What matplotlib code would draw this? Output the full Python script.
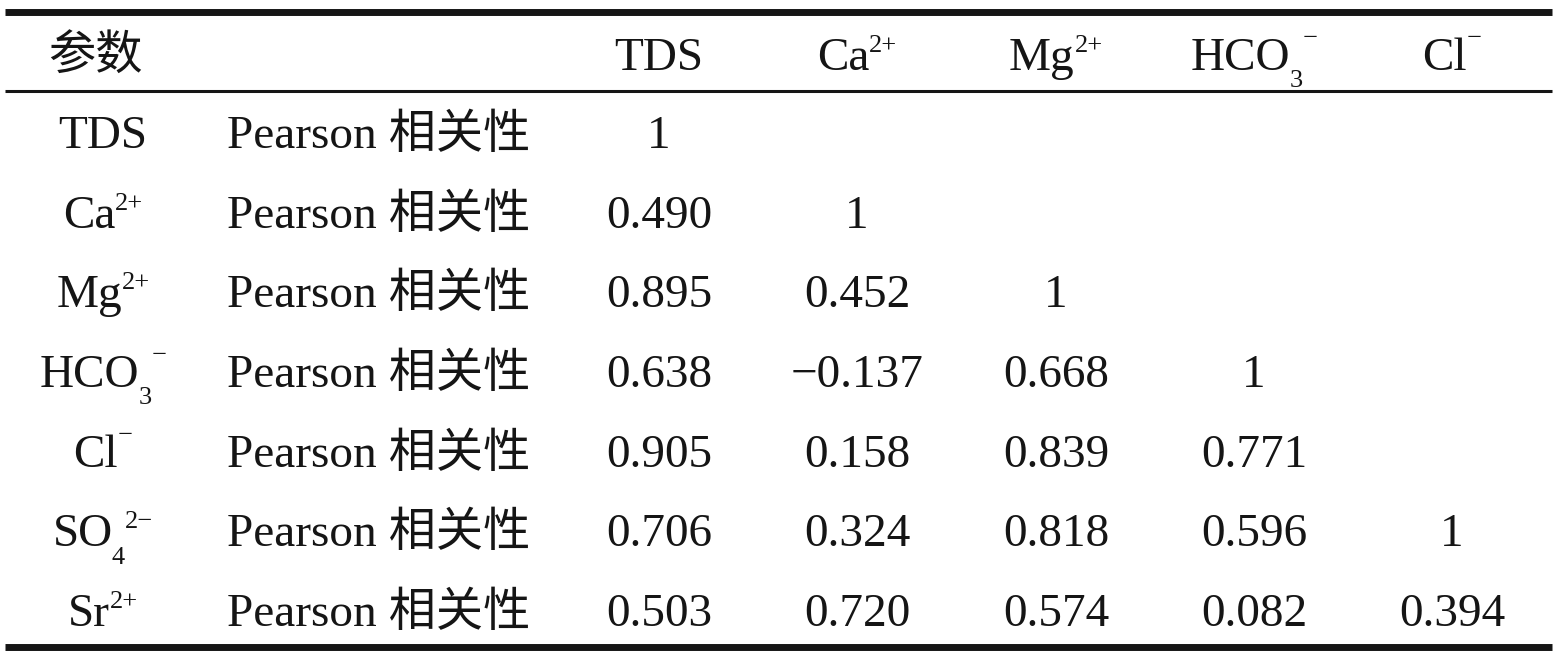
import matplotlib
matplotlib.use("Agg")
import matplotlib.pyplot as plt

plt.rcParams['font.family'] = ['Liberation Serif', 'Noto Sans CJK SC']

# table content: ion labels as (base, subscript, superscript)
header_first = "参数"
col_labels = [("TDS", "", ""), ("Ca", "", "2+"), ("Mg", "", "2+"),
              ("HCO", "3", "\u2212"), ("Cl", "", "\u2212")]
row_labels = [("TDS", "", ""), ("Ca", "", "2+"), ("Mg", "", "2+"),
              ("HCO", "3", "\u2212"), ("Cl", "", "\u2212"),
              ("SO", "4", "2\u2212"), ("Sr", "", "2+")]
stat_label = "Pearson 相关性"

tds_vals = [1]
ca_vals = [0.490, 1]
mg_vals = [0.895, 0.452, 1]
hco3_vals = [0.638, -0.137, 0.668, 1]
cl_vals = [0.905, 0.158, 0.839, 0.771]
so4_vals = [0.706, 0.324, 0.818, 0.596, 1]
sr_vals = [0.503, 0.720, 0.574, 0.082, 0.394]
rows = [tds_vals, ca_vals, mg_vals, hco3_vals, cl_vals, so4_vals, sr_vals]


def fmt(v):
    if v == 1:
        return "1"
    s = f"{abs(v):.3f}"
    return ("\u2212" + s) if v < 0 else s


# layout (pixel space, y grows downward)
W, H = 1560, 656
fig = plt.figure(figsize=(W / 100, H / 100), dpi=100)
ax = fig.add_axes([0, 0, 1, 1])
ax.set_xlim(0, W)
ax.set_ylim(H, 0)
ax.axis("off")
renderer = fig.canvas.get_renderer()

fs = 34
fs_small = 19
color = "#151515"
label_x = 103
stat_x = 227
col_x = [659, 857, 1056, 1254, 1452]
header_y = 70
row_y0 = 148
row_step = 79.7


def draw_ion(x, y, label):
    base, sub, sup = label
    parts = [(base, fs, 0, 0)]
    if sub:
        parts.append((sub, fs_small, 17, -1))
    if sup:
        dy = -25 if sup == "\u2212" else -18
        parts.append((sup, fs_small, dy, 0))
    placed = []
    cx = 0
    for txt, size, dy, gap in parts:
        cx += gap
        t = ax.text(0, y + dy, txt, fontsize=size, color=color,
                    ha="left", va="baseline")
        placed.append((t, cx))
        cx += t.get_window_extent(renderer).width
    x0 = x - cx / 2
    for t, off in placed:
        t.set_x(x0 + off)


# rules
ax.plot([5, 1552], [11.5, 11.5], color=color, lw=5.0, solid_capstyle="butt")
ax.plot([5, 1552], [90.5, 90.5], color=color, lw=2.2, solid_capstyle="butt")
ax.plot([5, 1552], [646.5, 646.5], color=color, lw=5.0, solid_capstyle="butt")

# header
ax.text(48, header_y, header_first, fontsize=fs, color=color, ha="left", va="baseline")
for x, lab in zip(col_x, col_labels):
    draw_ion(x, header_y, lab)

# body
for i, (lab, vals) in enumerate(zip(row_labels, rows)):
    y = row_y0 + i * row_step
    draw_ion(label_x, y, lab)
    ax.text(stat_x, y, stat_label, fontsize=fs, color=color, ha="left", va="baseline")
    for x, v in zip(col_x, vals):
        ax.text(x, y, fmt(v), fontsize=fs, color=color, ha="center", va="baseline")

fig.savefig("out.png", dpi=100)
